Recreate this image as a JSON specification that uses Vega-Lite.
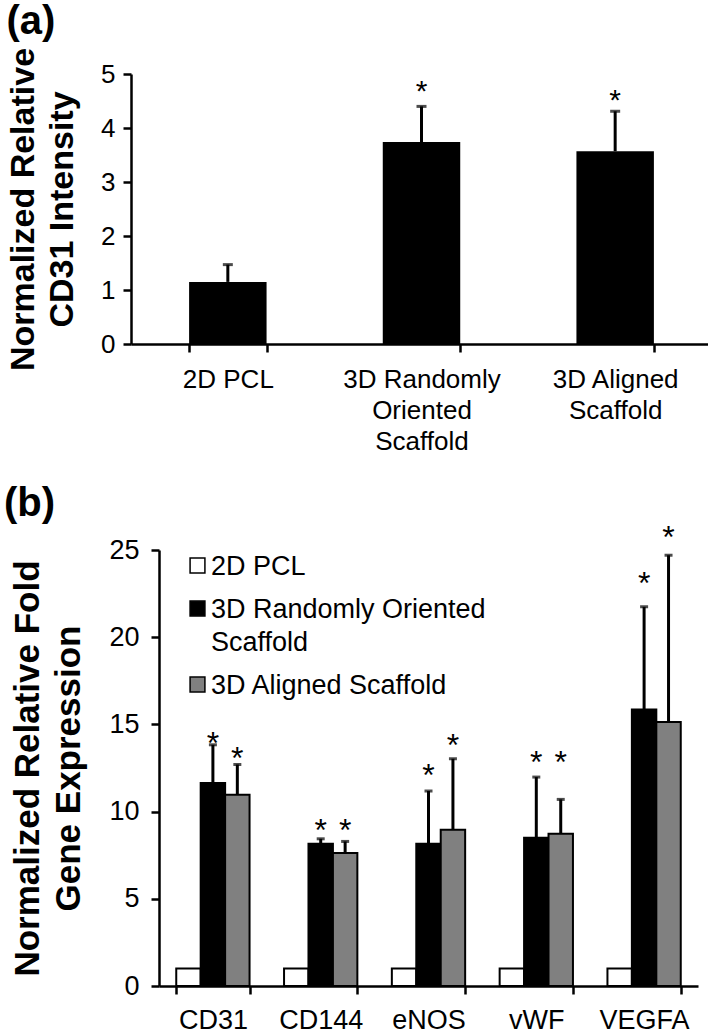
{
  "$schema": "https://vega.github.io/schema/vega-lite/v6.json",
  "padding": {"left": 3, "top": 2, "right": 0, "bottom": 0},
  "columns": 1,
  "spacing": 30,
  "resolve": {"scale": {"color": "independent"}, "legend": {"color": "independent"}},
  "datasets": {
    "a": [
      {"group": "2D PCL", "mean": 1.15, "upper": 1.47, "star": null, "sig": ""},
      {"group": "3D Randomly Oriented Scaffold", "mean": 3.74, "upper": 4.40, "star": 4.83, "sig": "*"},
      {"group": "3D Aligned Scaffold", "mean": 3.57, "upper": 4.31, "star": 4.67, "sig": "*"}
    ],
    "b": [
      {"gene": "CD31", "condition": "2D PCL", "mean": 1.0, "upper": null, "star": null, "sig": ""},
      {"gene": "CD31", "condition": "3D Randomly Oriented Scaffold", "mean": 11.64, "upper": 13.83, "star": 14.37, "sig": "*"},
      {"gene": "CD31", "condition": "3D Aligned Scaffold", "mean": 10.96, "upper": 12.70, "star": 13.55, "sig": "*"},
      {"gene": "CD144", "condition": "2D PCL", "mean": 1.0, "upper": null, "star": null, "sig": ""},
      {"gene": "CD144", "condition": "3D Randomly Oriented Scaffold", "mean": 8.15, "upper": 8.44, "star": 9.43, "sig": "*"},
      {"gene": "CD144", "condition": "3D Aligned Scaffold", "mean": 7.63, "upper": 8.29, "star": 9.43, "sig": "*"},
      {"gene": "eNOS", "condition": "2D PCL", "mean": 1.0, "upper": null, "star": null, "sig": ""},
      {"gene": "eNOS", "condition": "3D Randomly Oriented Scaffold", "mean": 8.15, "upper": 11.18, "star": 12.55, "sig": "*"},
      {"gene": "eNOS", "condition": "3D Aligned Scaffold", "mean": 8.96, "upper": 13.03, "star": 14.28, "sig": "*"},
      {"gene": "vWF", "condition": "2D PCL", "mean": 1.0, "upper": null, "star": null, "sig": ""},
      {"gene": "vWF", "condition": "3D Randomly Oriented Scaffold", "mean": 8.50, "upper": 11.98, "star": 13.32, "sig": "*"},
      {"gene": "vWF", "condition": "3D Aligned Scaffold", "mean": 8.73, "upper": 10.70, "star": 13.32, "sig": "*"},
      {"gene": "VEGFA", "condition": "2D PCL", "mean": 1.0, "upper": null, "star": null, "sig": ""},
      {"gene": "VEGFA", "condition": "3D Randomly Oriented Scaffold", "mean": 15.86, "upper": 21.74, "star": 23.55, "sig": "*"},
      {"gene": "VEGFA", "condition": "3D Aligned Scaffold", "mean": 15.14, "upper": 24.70, "star": 26.18, "sig": "*"}
    ]
  },
  "concat": [
    {
      "title": {"text": "(a)", "offset": 5},
      "width": 581,
      "height": 270,
      "data": {"name": "a"},
      "encoding": {
        "x": {
          "field": "group", "type": "nominal", "sort": null,
          "scale": {"paddingInner": 0.6, "paddingOuter": 0.3},
          "axis": {
            "title": null, "labelAngle": 0, "labelFontSize": 26, "labelPadding": 14,
            "labelLineHeight": 31, "labelBaseline": "top", "tickBand": "extent",
            "labelExpr": "datum.label == '3D Randomly Oriented Scaffold' ? ['3D Randomly', 'Oriented', 'Scaffold'] : datum.label == '3D Aligned Scaffold' ? ['3D Aligned', 'Scaffold'] : datum.label"
          }
        }
      },
      "layer": [
        {
          "mark": {"type": "bar", "color": "black"},
          "encoding": {
            "y": {
              "field": "mean", "type": "quantitative",
              "scale": {"domain": [0, 5], "nice": false},
              "axis": {
                "values": [0, 1, 2, 3, 4, 5],
                "title": ["Normalized Relative", "CD31 Intensity"],
                "titleFontSize": 34, "titleFontWeight": "bold", "titleLineHeight": 39,
                "titlePadding": 21, "labelFontSize": 26, "labelPadding": 8
              }
            }
          }
        },
        {
          "mark": {"type": "rule", "color": "black", "strokeWidth": 3},
          "encoding": {"y": {"field": "mean", "type": "quantitative"}, "y2": {"field": "upper"}}
        },
        {
          "mark": {"type": "tick", "color": "black", "thickness": 3, "size": 10},
          "encoding": {"y": {"field": "upper", "type": "quantitative"}}
        },
        {
          "transform": [{"filter": "datum.star != null"}],
          "mark": {"type": "text", "fontSize": 30, "baseline": "middle", "dy": 9, "color": "black"},
          "encoding": {"y": {"field": "star", "type": "quantitative"}, "text": {"field": "sig"}}
        }
      ]
    },
    {
      "title": {"text": "(b)", "offset": -2, "dx": -7},
      "width": 567,
      "height": 436,
      "data": {"name": "b"},
      "encoding": {
        "x": {
          "field": "gene", "type": "nominal", "sort": null,
          "scale": {"range": [28, 567], "paddingInner": 0.32, "paddingOuter": 0.16},
          "axis": {
            "title": null, "labelAngle": 0, "labelFontSize": 27, "labelPadding": 13,
            "labelBaseline": "top", "tickBand": "extent"
          }
        },
        "xOffset": {
          "field": "condition", "type": "nominal",
          "sort": ["2D PCL", "3D Randomly Oriented Scaffold", "3D Aligned Scaffold"],
          "scale": {"paddingInner": 0, "paddingOuter": 0}
        }
      },
      "layer": [
        {
          "mark": {"type": "bar", "stroke": "black", "strokeWidth": 2},
          "encoding": {
            "y": {
              "field": "mean", "type": "quantitative",
              "scale": {"domain": [0, 25], "nice": false},
              "axis": {
                "offset": -28,
                "values": [0, 5, 10, 15, 20, 25],
                "title": ["Normalized Relative Fold", "Gene Expression"],
                "titleFontSize": 35, "titleFontWeight": "bold", "titleLineHeight": 41,
                "titlePadding": 22, "labelFontSize": 27, "labelPadding": 12
              }
            },
            "color": {
              "field": "condition", "type": "nominal",
              "scale": {
                "domain": ["2D PCL", "3D Randomly Oriented Scaffold", "3D Aligned Scaffold"],
                "range": ["#ffffff", "#000000", "#808080"]
              },
              "legend": {
                "title": null, "orient": "none", "legendX": 53, "legendY": 2,
                "direction": "vertical", "symbolType": "square", "symbolSize": 220,
                "symbolStrokeColor": "black", "symbolStrokeWidth": 1.5,
                "labelFontSize": 27, "labelColor": "black", "labelLimit": 500,
                "labelOffset": 0, "rowPadding": 15, "padding": 0,
                "labelBaseline": "alphabetic",
                "labelExpr": "datum.label == '3D Randomly Oriented Scaffold' ? ['3D Randomly Oriented', 'Scaffold'] : datum.label",
                "encode": {"labels": {"update": {"dy": {"value": 9}, "lineHeight": {"value": 33}}}}
              }
            }
          }
        },
        {
          "transform": [{"filter": "datum.upper != null"}],
          "mark": {"type": "rule", "color": "black", "strokeWidth": 3},
          "encoding": {"y": {"field": "mean", "type": "quantitative"}, "y2": {"field": "upper"}}
        },
        {
          "transform": [{"filter": "datum.upper != null"}],
          "mark": {"type": "tick", "color": "black", "thickness": 3, "size": 8},
          "encoding": {"y": {"field": "upper", "type": "quantitative"}}
        },
        {
          "transform": [{"filter": "datum.star != null"}],
          "mark": {"type": "text", "fontSize": 32, "baseline": "middle", "dy": 9, "color": "black"},
          "encoding": {"y": {"field": "star", "type": "quantitative"}, "text": {"field": "sig"}}
        }
      ]
    }
  ],
  "config": {
    "font": "Liberation Sans",
    "view": {"stroke": null},
    "axis": {
      "grid": false, "domainColor": "black", "tickColor": "black", "labelColor": "black",
      "titleColor": "black", "domainWidth": 2.5, "tickWidth": 2.5, "tickSize": 8,
      "labelFont": "Liberation Sans", "titleFont": "Liberation Sans"
    },
    "title": {
      "font": "Liberation Sans", "fontWeight": "bold", "fontSize": 40,
      "anchor": "start", "frame": "bounds", "color": "black"
    }
  }
}
